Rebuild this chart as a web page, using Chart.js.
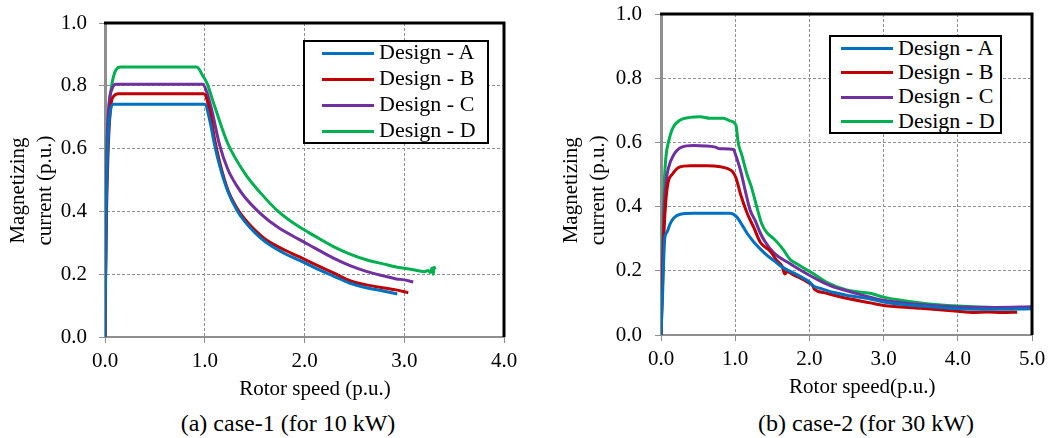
<!DOCTYPE html>
<html>
<head>
<meta charset="utf-8">
<script src="https://cdn.jsdelivr.net/npm/chart.js@4.4.1/dist/chart.umd.min.js"></script>
<style>
  body { margin: 0; background: #fff; width: 1048px; height: 438px; overflow: hidden; position: relative;
         font-family: "Liberation Serif", "DejaVu Serif", "Noto Serif", "Times New Roman", serif; }
  canvas { position: absolute; top: 0; }
  .legend { position: absolute; border: 2px solid #000; background: #fff; box-sizing: border-box; }
  .legend .row { position: absolute; left: 0; right: 0; height: 0; }
  .legend .swatch { position: absolute; height: 3px; margin-top: -1.5px; }
  .legend .txt { position: absolute; font-size: 22px; line-height: 22px; margin-top: -12px; color: #000; white-space: nowrap; }
  .caption { position: absolute; font-size: 24px; line-height: 24px; color: #000; white-space: nowrap; transform: translate(-50%, -50%); }
</style>
</head>
<body>
<canvas id="chart1" width="524" height="402" style="left:0px"></canvas>
<canvas id="chart2" width="520" height="400" style="left:528px"></canvas>
<div id="legend1" class="legend" style="left:303px; top:40px; width:186px; height:104px"></div>
<div id="legend2" class="legend" style="left:829px; top:35px; width:173px; height:99px"></div>
<div class="caption" style="left:288px; top:423px">(a) case-1 (for 10 kW)</div>
<div class="caption" style="left:866px; top:423px">(b) case-2 (for 30 kW)</div>

<script>
// Noms des séries et couleurs (style Excel)
const designs = ['Design - A', 'Design - B', 'Design - C', 'Design - D'];
const colors = ['#0070C0', '#C00000', '#7030A0', '#00B050'];
const yTicks = [0, 0.2, 0.4, 0.6, 0.8, 1.0];

// ---- Cas 1 (10 kW) : vitesse rotor (p.u.) / courant magnétisant (p.u.)
const speedA1 = [0, 0.01, 0.03, 0.05, 0.08, 1.0, 1.05, 1.1, 1.15, 1.23, 1.32, 1.4, 1.5, 1.6, 1.8, 1.95, 2.1, 2.29, 2.45, 2.62, 2.8, 2.93];
const currA1  = [0, 0.35, 0.62, 0.71, 0.741, 0.741, 0.69, 0.61, 0.545, 0.465, 0.405, 0.368, 0.333, 0.305, 0.266, 0.244, 0.221, 0.194, 0.172, 0.157, 0.146, 0.137];
const speedB1 = [0, 0.01, 0.03, 0.06, 0.09, 0.13, 0.99, 1.05, 1.1, 1.15, 1.23, 1.32, 1.4, 1.5, 1.6, 1.8, 1.95, 2.1, 2.29, 2.45, 2.62, 2.8, 2.92, 3.04];
const currB1  = [0, 0.3, 0.58, 0.74, 0.768, 0.775, 0.775, 0.72, 0.628, 0.556, 0.47, 0.412, 0.376, 0.341, 0.313, 0.277, 0.255, 0.232, 0.204, 0.18, 0.166, 0.156, 0.15, 0.141];
const speedC1 = [0, 0.01, 0.02, 0.04, 0.07, 0.11, 0.98, 1.02, 1.07, 1.15, 1.23, 1.32, 1.4, 1.57, 1.73, 1.95, 2.1, 2.29, 2.45, 2.62, 2.8, 2.92, 3.0, 3.09];
const currC1  = [0, 0.35, 0.6, 0.74, 0.79, 0.805, 0.805, 0.78, 0.723, 0.61, 0.535, 0.482, 0.446, 0.39, 0.35, 0.31, 0.284, 0.251, 0.228, 0.209, 0.194, 0.185, 0.182, 0.175];
const speedD1 = [0, 0.01, 0.03, 0.16, 0.92, 0.98, 1.02, 1.1, 1.23, 1.4, 1.57, 1.73, 1.95, 2.1, 2.29, 2.45, 2.62, 2.8, 2.92, 3.09, 3.2, 3.24, 3.26, 3.28, 3.29, 3.3, 3.31];
const currD1  = [0, 0.4, 0.7, 0.86, 0.86, 0.832, 0.81, 0.734, 0.617, 0.522, 0.455, 0.402, 0.35, 0.322, 0.288, 0.265, 0.246, 0.232, 0.223, 0.214, 0.208, 0.212, 0.205, 0.22, 0.2, 0.222, 0.215];

// ---- Cas 2 (30 kW)
const speedA2 = [0, 0.02, 0.05, 0.08, 0.12, 0.17, 0.26, 0.44, 0.7, 0.93, 1.02, 1.1, 1.16, 1.25, 1.33, 1.43, 1.52, 1.61, 1.7, 1.88, 2.0, 2.06, 2.15, 2.32, 2.5, 2.82, 3.0, 3.5, 4.0, 4.5, 5.0];
const currA2  = [0, 0.12, 0.3, 0.32, 0.345, 0.364, 0.376, 0.379, 0.379, 0.379, 0.368, 0.34, 0.317, 0.29, 0.27, 0.248, 0.232, 0.215, 0.203, 0.182, 0.165, 0.152, 0.145, 0.133, 0.124, 0.112, 0.103, 0.09, 0.082, 0.08, 0.082];
const speedB2 = [0, 0.02, 0.04, 0.07, 0.1, 0.15, 0.24, 0.4, 0.62, 0.8, 0.9, 0.96, 1.01, 1.07, 1.16, 1.25, 1.34, 1.47, 1.56, 1.63, 1.67, 1.7, 1.78, 1.88, 2.01, 2.04, 2.07, 2.2, 2.41, 2.82, 3.0, 3.5, 4.0, 4.2, 4.4, 4.6, 4.8];
const currB2  = [0, 0.15, 0.32, 0.43, 0.48, 0.5, 0.522, 0.527, 0.527, 0.524, 0.518, 0.51, 0.49, 0.44, 0.38, 0.335, 0.288, 0.262, 0.232, 0.215, 0.19, 0.198, 0.188, 0.177, 0.16, 0.155, 0.142, 0.132, 0.119, 0.1, 0.092, 0.083, 0.074, 0.07, 0.072, 0.07, 0.071];
const speedC2 = [0, 0.02, 0.04, 0.07, 0.1, 0.17, 0.28, 0.44, 0.6, 0.72, 0.8, 0.98, 1.0, 1.07, 1.14, 1.2, 1.27, 1.34, 1.41, 1.52, 1.74, 1.97, 2.19, 2.32, 2.5, 3.0, 3.5, 4.0, 4.5, 5.0];
const currC2  = [0, 0.2, 0.38, 0.48, 0.52, 0.561, 0.585, 0.59, 0.589, 0.586, 0.58, 0.578, 0.565, 0.514, 0.445, 0.39, 0.356, 0.317, 0.288, 0.256, 0.222, 0.19, 0.163, 0.15, 0.138, 0.108, 0.095, 0.087, 0.086, 0.088];
const speedD2 = [0, 0.02, 0.04, 0.067, 0.1, 0.157, 0.26, 0.39, 0.53, 0.66, 0.84, 0.93, 1.01, 1.04, 1.09, 1.16, 1.22, 1.29, 1.36, 1.43, 1.52, 1.6, 1.65, 1.74, 1.83, 1.95, 2.06, 2.24, 2.5, 2.82, 3.0, 3.5, 4.0, 4.5, 5.0];
const currD2  = [0, 0.25, 0.45, 0.556, 0.6, 0.644, 0.67, 0.678, 0.68, 0.675, 0.675, 0.667, 0.654, 0.6, 0.56, 0.5, 0.46, 0.4, 0.345, 0.318, 0.3, 0.28, 0.265, 0.235, 0.222, 0.205, 0.19, 0.163, 0.14, 0.13, 0.118, 0.1, 0.09, 0.086, 0.086];

const SERIF = "'Liberation Serif', 'DejaVu Serif', 'Noto Serif', 'Times New Roman', serif";
const AXIS_GREY = '#8f8f8f';

function toPoints(xs, ys) {
  return xs.map((x, i) => ({ x: x, y: ys[i] }));
}

function buildDatasets(pairs) {
  return pairs.map((p, i) => ({
    label: designs[i],
    data: toPoints(p[0], p[1]),
    borderColor: colors[i],
    backgroundColor: colors[i],
    borderWidth: 3,
    pointRadius: 0,
    showLine: true,
    fill: false,
    cubicInterpolationMode: 'monotone'
  }));
}

// cadre noir en haut et à droite de la zone de tracé
const framePlugin = {
  id: 'frame',
  afterDraw(chart) {
    const a = chart.chartArea, ctx = chart.ctx;
    ctx.save();
    ctx.strokeStyle = '#000';
    ctx.lineWidth = 3;
    ctx.beginPath();
    ctx.moveTo(a.left - 1, a.top);
    ctx.lineTo(a.right, a.top);
    ctx.lineTo(a.right, a.bottom);
    ctx.stroke();
    ctx.restore();
  }
};

function makeChart(id, datasets, cfg) {
  const ctx = document.getElementById(id).getContext('2d');
  return new Chart(ctx, {
    type: 'scatter',
    data: { datasets: datasets },
    plugins: [framePlugin],
    options: {
      responsive: false,
      animation: false,
      devicePixelRatio: 1,
      clip: true,
      layout: { padding: cfg.padding },
      plugins: { legend: { display: false }, tooltip: { enabled: false } },
      scales: {
        x: {
          type: 'linear', min: 0, max: cfg.xMax,
          afterFit: s => { s.height = 65; s.paddingLeft = 0; s.paddingRight = 0; },
          ticks: {
            stepSize: 1, padding: 6, color: '#000',
            font: { family: SERIF, size: 21 },
            callback: v => Number(v).toFixed(1)
          },
          grid: { color: AXIS_GREY, tickColor: AXIS_GREY, tickLength: 6, lineWidth: 1, tickBorderDash: [] },
          border: { display: true, color: AXIS_GREY, width: 2, dash: [3, 2] },
          title: {
            display: true, text: cfg.xTitle, color: '#000',
            font: { family: SERIF, size: 21, lineHeight: 1.2 }, padding: 0
          }
        },
        y: {
          type: 'linear', min: 0, max: 1,
          afterFit: s => { s.width = cfg.yWidth; s.paddingTop = 0; s.paddingBottom = 0; },
          afterBuildTicks: s => { s.ticks = yTicks.map(v => ({ value: v })); },
          ticks: {
            padding: cfg.yPad, color: '#000',
            font: { family: SERIF, size: 21 },
            callback: v => Number(v).toFixed(1)
          },
          grid: { color: AXIS_GREY, tickColor: AXIS_GREY, tickLength: 6, lineWidth: 1, tickBorderDash: [] },
          border: { display: true, color: AXIS_GREY, width: 3, dash: [3, 2] },
          title: {
            // espaces finaux : décale le titre vers le bas comme dans l'original
            display: true, text: cfg.yTitle, color: '#000',
            font: { family: SERIF, size: 21, lineHeight: 1.29 }, padding: { top: 4.5, bottom: 0 }
          }
        }
      }
    }
  });
}

function buildLegend(el, chart, lay) {
  chart.data.datasets.forEach((ds, i) => {
    const row = document.createElement('div');
    row.className = 'row';
    row.style.top = (lay.first + i * lay.step) + 'px';
    const sw = document.createElement('div');
    sw.className = 'swatch';
    sw.style.left = lay.lineX + 'px';
    sw.style.width = lay.lineW + 'px';
    sw.style.background = ds.borderColor;
    const t = document.createElement('div');
    t.className = 'txt';
    t.style.left = lay.textX + 'px';
    t.textContent = ds.label;
    row.appendChild(sw);
    row.appendChild(t);
    el.appendChild(row);
  });
}

const chart1 = makeChart('chart1', buildDatasets([
  [speedA1, currA1], [speedB1, currB1], [speedC1, currC1], [speedD1, currD1]
]), { xMax: 4, xTitle: '    Rotor speed (p.u.)', yWidth: 105, yPad: 12,
      yTitle: ['Magnetizing    ', 'current (p.u.)    '],
      padding: { top: 23, left: 0, right: 20, bottom: 0 } });

const chart2 = makeChart('chart2', buildDatasets([
  [speedA2, currA2], [speedB2, currB2], [speedC2, currC2], [speedD2, currD2]
]), { xMax: 5, xTitle: '      Rotor speed(p.u.)', yWidth: 108, yPad: 13,
      yTitle: ['Magnetizing      ', 'current (p.u.)      '],
      padding: { top: 14, left: 25, right: 16, bottom: 0 } });

buildLegend(document.getElementById('legend1'), chart1, { first: 11, step: 26, lineX: 17, lineW: 52, textX: 74 });
buildLegend(document.getElementById('legend2'), chart2, { first: 11.5, step: 24.4, lineX: 10, lineW: 52, textX: 67 });
</script>
</body>
</html>
